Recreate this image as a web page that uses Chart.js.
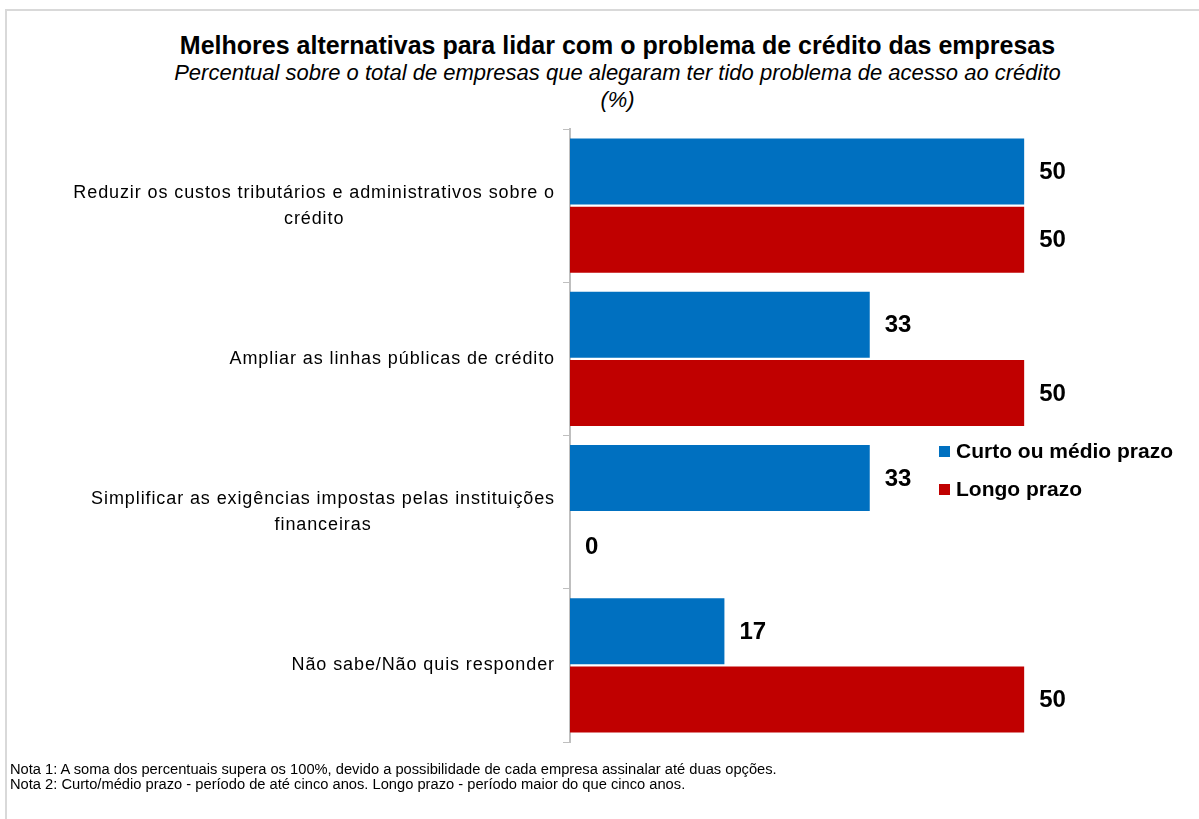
<!DOCTYPE html>
<html>
<head>
<meta charset="utf-8">
<script src="https://cdn.jsdelivr.net/npm/chart.js@4/dist/chart.umd.min.js"></script>
<style>
  html, body { margin: 0; padding: 0; background: #fff; }
  body { width: 1199px; height: 819px; position: relative; overflow: hidden; font-family: "Liberation Sans", Arial, sans-serif; }
  #frame { position: absolute; left: 5px; top: 9px; width: 1194px; height: 810px; border-top: 2px solid #d9d9d9; border-left: 2px solid #d9d9d9; }
  #title { position: absolute; left: 0; width: 1235px; top: 31px; line-height: 28px; text-align: center; font-weight: bold; font-size: 25px; color: #000; }
  #subtitle { position: absolute; left: 0; width: 1235px; top: 59px; text-align: center; font-style: italic; font-size: 22px; line-height: 27px; color: #000; }
  #notes { position: absolute; left: 10px; top: 762px; font-size: 14.7px; line-height: 15px; color: #000; }
  #wrap { position: absolute; left: 0; top: 0; width: 1199px; height: 819px; }
</style>
</head>
<body>
<div id="frame"></div>
<div id="title">Melhores alternativas para lidar com o problema de crédito das empresas</div>
<div id="subtitle">Percentual sobre o total de empresas que alegaram ter tido problema de acesso ao crédito<br>(%)</div>
<div id="wrap"><canvas id="chart" width="1199" height="819"></canvas></div>
<div id="notes">Nota 1: A soma dos percentuais supera os 100%, devido a possibilidade de cada empresa assinalar até duas opções.<br>Nota 2: Curto/médio prazo - período de até cinco anos. Longo prazo - período maior do que cinco anos.</div>
<script>
const categories = [
    ["Reduzir os custos tributários e administrativos sobre o", "crédito"],
    ["Ampliar as linhas públicas de crédito"],
    ["Simplificar as exigências impostas pelas instituições", "financeiras"],
    ["Não sabe/Não quis responder"]
];
const seriesNames = ["Curto ou médio prazo", "Longo prazo"];
const curtoMedio = [50, 33, 33, 17];
const longo = [50, 50, 0, 50];
const colors = ["#0070C0", "#C00000"];

/* category labels, each block centred on itself and right aligned to the axis */
const yLabelPlugin = {
    id: "yLabels",
    afterDraw(chart) {
        const ctx = chart.ctx;
        const ys = chart.scales.y;
        const right = chart.chartArea.left - 15;
        ctx.save();
        ctx.font = "18px 'Liberation Sans', Arial, sans-serif";
        ctx.letterSpacing = "0.9px";
        ctx.fillStyle = "#000";
        ctx.textAlign = "center";
        ctx.textBaseline = "middle";
        categories.forEach((lines, i) => {
            const yc = ys.getPixelForTick(i);
            let w = 0;
            lines.forEach(l => { w = Math.max(w, ctx.measureText(l).width); });
            const cx = right - w / 2;
            const lh = 26;
            const y0 = yc - (lines.length - 1) * lh / 2;
            lines.forEach((l, k) => ctx.fillText(l, cx, y0 + k * lh));
        });
        ctx.restore();
    }
};

/* value labels at bar ends */
const valuePlugin = {
    id: "values",
    afterDatasetsDraw(chart) {
        const ctx = chart.ctx;
        ctx.save();
        ctx.font = "bold 24px 'Liberation Sans', Arial, sans-serif";
        ctx.fillStyle = "#000";
        ctx.textAlign = "left";
        ctx.textBaseline = "middle";
        chart.data.datasets.forEach((ds, di) => {
            chart.getDatasetMeta(di).data.forEach((bar, i) => {
                ctx.fillText(String(ds.data[i]), bar.x + 15, bar.y + 1);
            });
        });
        ctx.restore();
    }
};

/* legend drawn inside plot, like the original */
const legendPlugin = {
    id: "sideLegend",
    afterDraw(chart) {
        const ctx = chart.ctx;
        ctx.save();
        ctx.font = "bold 21px 'Liberation Sans', Arial, sans-serif";
        ctx.textBaseline = "middle";
        ctx.textAlign = "left";
        chart.data.datasets.forEach((ds, di) => {
            const y = 452 + di * 38;
            ctx.fillStyle = ds.backgroundColor;
            ctx.fillRect(939, y - 6, 11, 11);
            ctx.fillStyle = "#000";
            ctx.fillText(ds.label, 956, y);
        });
        ctx.restore();
    }
};

new Chart(document.getElementById("chart").getContext("2d"), {
    type: "bar",
    data: {
        labels: categories,
        datasets: [
            { label: seriesNames[0], data: curtoMedio, backgroundColor: colors[0] },
            { label: seriesNames[1], data: longo, backgroundColor: colors[1] }
        ]
    },
    options: {
        indexAxis: "y",
        responsive: false,
        animation: false,
        devicePixelRatio: 1,
        layout: { padding: { left: 560, right: 84, top: 129, bottom: 77 } },
        categoryPercentage: 0.89,
        barPercentage: 0.97,
        scales: {
            x: { display: false, min: 0, max: 60 },
            y: {
                ticks: { display: false },
                grid: { offset: true, drawOnChartArea: false, tickLength: 7, color: "#bfbfbf", lineWidth: 1 },
                border: { display: true, color: "#bfbfbf", width: 2 },
                afterFit(scale) { scale.width = 10; }
            }
        },
        plugins: { legend: { display: false }, tooltip: { enabled: false } }
    },
    plugins: [yLabelPlugin, valuePlugin, legendPlugin]
});
</script>
</body>
</html>
